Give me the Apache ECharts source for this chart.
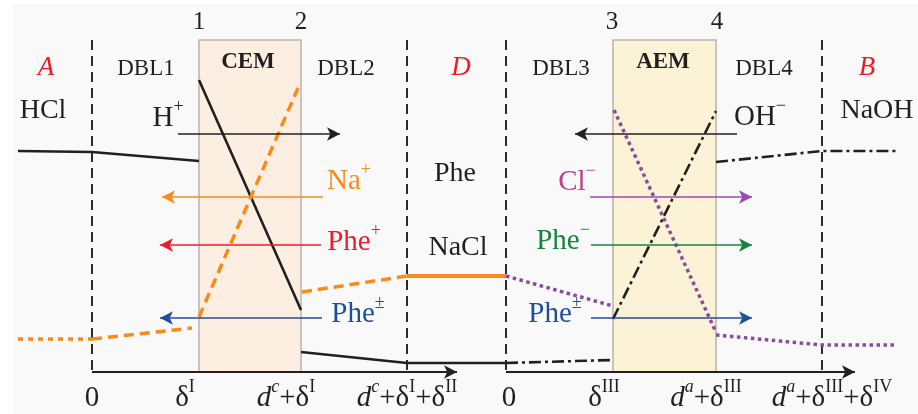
<!DOCTYPE html>
<html>
<head>
<meta charset="utf-8">
<script src="https://cdn.jsdelivr.net/npm/echarts@6/dist/echarts.min.js"></script>
<style>html,body{margin:0;padding:0;background:#fff}#c{width:918px;height:414px}</style>
</head>
<body>
<div id="c"></div>
<script>
// ================= DATA (schematic units; x = distance across the cell, y = level, 0 at top) =================
// Concentration profiles (segments)
const hclA_DBL1   = [[18,151],[92,152],[199,161]];
const hclCEM      = [[199,80],[301,310]];
const hclDBL2_D   = [[301,352],[407,363],[506,363]];
const ohDBL3      = [[506,363],[613,360]];
const ohAEM       = [[613,319],[716,111]];
const ohDBL4_B    = [[716,162],[822,151],[897,151]];
const naBulkA     = [[18,339],[92,339]];
const naDBL1      = [[92,339],[192,328]];
const naCEM       = [[199,317],[298,88]];
const naDBL2      = [[302,292],[407,276]];
const naD         = [[407,276],[506,276]];
const clDBL3      = [[506,276],[613,306]];
const clAEM       = [[614,110],[715,330]];
const clDBL4_B    = [[716,335],[822,345],[897,345]];

// Fluxes: [from, to, level]
const fluxH     = [178, 340, 134];
const fluxNa    = [323, 162, 197];
const fluxPheP  = [321, 160, 245];
const fluxPheZ1 = [322, 160, 318];
const fluxOH    = [737, 575, 134];
const fluxCl    = [590, 752, 197];
const fluxPheN  = [591, 752, 245];
const fluxPheZ2 = [591, 752, 318];

// Boundaries and membranes
const boundaries   = [92, 407, 506, 822];
const cem          = [199, 301];
const aem          = [613, 716];
const layerTop     = 40;
const axisLevel    = 372;
const axis1        = [92, 457];
const axis2        = [506, 855];

// Tick positions / labels
const ticks1       = [92, 185, 286, 407];
const tickLabels1  = ['{t|0}', '{t|δ}{tp|I}', '{ti|d}{tpi|c}{t|+δ}{tp|I}', '{ti|d}{tpi|c}{t|+δ}{tp|I}{t|+δ}{tp|II}'];
const ticks2       = [509, 604, 706, 832];
const tickLabels2  = ['{t|0}', '{t|δ}{tp|III}', '{ti|d}{tpi|a}{t|+δ}{tp|III}', '{ti|d}{tpi|a}{t|+δ}{tp|III}{t|+δ}{tp|IV}'];

// Text labels
const interfaceNums  = ['1','2','3','4'];
const interfaceX     = [199, 301, 612, 717];
const regionLetters  = ['A','D','B'];
const regionX        = [46, 461, 867];
const layerNames     = ['DBL1','DBL2','DBL3','DBL4'];
const layerX         = [146, 346, 561, 764];
const membraneNames  = ['CEM','AEM'];
const membraneX      = [248, 663];
const solutionNames  = ['HCl','Phe','NaCl','NaOH'];
const solutionPos    = [[43,111],[455,174],[458,248],[877,111]];
const ionLabels      = ['{b|H}{p|+}','{b|Na}{p|+}','{b|Phe}{p|+}','{b|Phe}{p|±}','{b|OH}{p|−}','{b|Cl}{p|−}','{b|Phe}{p|−}','{b|Phe}{p|±}'];
const ionPos         = [[168,118],[349,181],[354,242],[358,314],[760,117],[577,182],[563,241],[555,314]];

// ================= STYLE =================
const SERIF = 'Liberation Serif';
const C = {
  black:'#231f20', orange:'#f98a1c', red:'#ec1c2e', blue:'#1f4e9c', green:'#17843d',
  purple:'#8b4aa0', clArrow:'#9b4ab5', clText:'#c0408a', letter:'#ed1c24', dash:'#2a2a2a'
};
const ionColors = [C.black, C.orange, C.red, C.blue, C.black, C.clText, C.green, C.blue];

const rich = {
  b:  {fontSize: 29, lineHeight: 40},
  p:  {fontSize: 18, lineHeight: 14, verticalAlign: 'top'},
  t:  {fontSize: 29, lineHeight: 40},
  ti: {fontSize: 29, lineHeight: 40, fontStyle: 'italic'},
  tp: {fontSize: 18, lineHeight: 18, verticalAlign: 'top'},
  tpi:{fontSize: 18, lineHeight: 18, verticalAlign: 'top', fontStyle: 'italic'}
};

function line(data, color, width, type, z) {
  return {type:'line', data, symbol:'none', clip:false, silent:true, z: z || 4, animation:false,
    lineStyle:{color, width, type, cap:'butt', join:'miter', opacity:1}};
}
function texts(points, labels, style) {
  return {type:'scatter', symbolSize:0, silent:true, z:10, animation:false, itemStyle:{opacity:1},
    data: points.map((p,i) => ({value:p, itemStyle:{opacity:1}, label:Object.assign({show:true, position:'inside', opacity:1,
      formatter: labels[i], fontFamily:SERIF, rich, textBorderWidth:0}, typeof style === 'function' ? style(i) : style)}))};
}
function arrow(f, color) {
  return [{coord:[f[0], f[2]], lineStyle:{color, width:1.6, type:'solid'}}, {coord:[f[1], f[2]]}];
}

const series = [];
// membranes
series.push({type:'line', data:[], z:1, silent:true, markArea:{silent:true, z:1, data:[
  [{coord:[cem[0], layerTop], itemStyle:{color:'#fdeee2', borderColor:'#b9b3ad', borderWidth:1.5, opacity:1}}, {coord:[cem[1], axisLevel]}],
  [{coord:[aem[0], layerTop], itemStyle:{color:'#fcf3d6', borderColor:'#b9b3ad', borderWidth:1.5, opacity:1}}, {coord:[aem[1], axisLevel]}]
]}});
// dashed boundaries
boundaries.forEach(x => series.push(line([[x, layerTop],[x, axisLevel]], C.dash, 2, [10,6], 2)));
// axes + flux arrows
series.push({type:'line', data:[], z:5, silent:true, markLine:{silent:true, symbol:['none','arrow'], symbolSize:[10,13],
  label:{show:false}, animation:false, data:[
    [{coord:[axis1[0], axisLevel], lineStyle:{color:C.black, width:2, type:'solid'}}, {coord:[axis1[1], axisLevel]}],
    [{coord:[axis2[0], axisLevel], lineStyle:{color:C.black, width:2, type:'solid'}}, {coord:[axis2[1], axisLevel]}],
    arrow(fluxH, C.black), arrow(fluxNa, C.orange), arrow(fluxPheP, C.red), arrow(fluxPheZ1, C.blue),
    arrow(fluxOH, C.black), arrow(fluxCl, C.clArrow), arrow(fluxPheN, C.green), arrow(fluxPheZ2, C.blue)
  ]}});
// profiles
[hclA_DBL1, hclCEM, hclDBL2_D].forEach(d => series.push(line(d, C.black, 2.6, 'solid')));
[ohDBL3, ohAEM, ohDBL4_B].forEach(d => series.push(line(d, C.black, 2.6, [12,4,3,4])));
series.push(line(naBulkA, C.orange, 3.5, [5,5]));
[naDBL1, naCEM, naDBL2].forEach(d => series.push(line(d, C.orange, 3.5, [10,6])));
series.push(line(naD, C.orange, 4, 'solid'));
[clDBL3, clAEM, clDBL4_B].forEach(d => series.push(line(d, C.purple, 3.5, [3.5,3.5])));
// texts
series.push(texts(interfaceX.map(x => [x, 22]), interfaceNums, {fontSize:25, color:C.black}));
series.push(texts(regionX.map(x => [x, 68]), regionLetters, {fontSize:27, fontStyle:'italic', color:C.letter}));
series.push(texts(layerX.map(x => [x, 69]), layerNames, {fontSize:23, color:C.black}));
series.push(texts(membraneX.map(x => [x, 62]), membraneNames, {fontSize:23, fontWeight:'bold', color:C.black}));
series.push(texts(solutionPos, solutionNames, {fontSize:28, color:C.black}));
series.push(texts(ionPos, ionLabels, i => ({color: ionColors[i]})));
series.push(texts(ticks1.map(x => [x, 398]), tickLabels1, {color:C.black}));
series.push(texts(ticks2.map(x => [x, 398]), tickLabels2, {color:C.black}));

const chart = echarts.init(document.getElementById('c'), null, {renderer:'canvas'});
chart.setOption({
  animation:false,
  backgroundColor:'#ffffff',
  graphic:[{type:'rect', left:13, top:4, shape:{width:905, height:410}, style:{fill:'#f9f9f9'}, z:-10, silent:true}],
  grid:{left:0, right:0, top:0, bottom:0},
  xAxis:{type:'value', min:0, max:918, show:false},
  yAxis:{type:'value', min:0, max:414, inverse:true, show:false},
  series
});
</script>
</body>
</html>
